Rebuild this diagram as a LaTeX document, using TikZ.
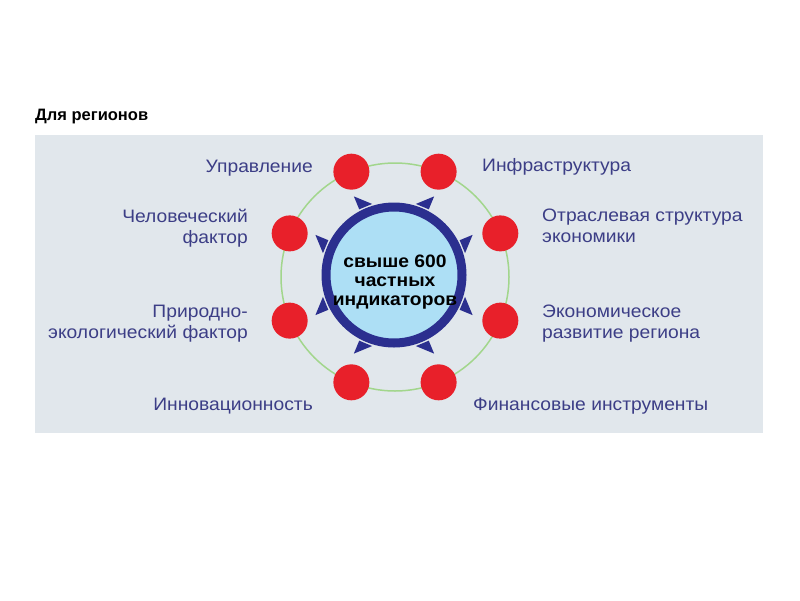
\documentclass[tikz,border=0pt]{standalone}
\usepackage{fontspec}
\setmainfont[FakeStretch=1.07]{Liberation Sans}
\newfontfamily\titlefont{Liberation Sans}
\definecolor{panel}{HTML}{E1E7EC}
\definecolor{lbl}{HTML}{3C3E86}
\definecolor{ringc}{HTML}{2B2F8F}
\definecolor{core}{HTML}{ADDFF5}
\definecolor{dotred}{HTML}{E8202A}
\definecolor{grn}{HTML}{A2D68C}
\begin{document}
\begin{tikzpicture}[x=1pt,y=-1pt,
  lab/.style={text=lbl,font=\fontsize{18}{21}\selectfont,inner sep=0pt},
  dot/.style={circle,fill=dotred,minimum size=36pt,inner sep=0pt},
  tri/.style={fill=ringc}]
\useasboundingbox[fill=white] (0,0) rectangle (800,600);
\node[anchor=base west,inner sep=0pt,font=\titlefont\bfseries\fontsize{16.5}{18}\selectfont] (title) at (35,120) {Для регионов};
\fill[panel] (35,135) rectangle (763,433);
\coordinate (c) at (395,277);
\draw[grn,line width=1.5pt] (c) circle[radius=114];
\foreach \k in {0,...,7}{
  \pgfmathsetmacro\a{22.5+45*\k}
  \pgfmathsetmacro\s{ifthenelse(mod(\k,2)==0,1,-1)}
  \fill[tri] ({394+74*cos(\a)+7*\s*sin(\a)},{275-74*sin(\a)+7*\s*cos(\a)})
    -- ({394+74*cos(\a)-7*\s*sin(\a)},{275-74*sin(\a)-7*\s*cos(\a)})
    -- ({394+88*cos(\a)-7*\s*sin(\a)},{275-88*sin(\a)-7*\s*cos(\a)}) -- cycle;
}
\node[circle,draw=ringc,line width=9pt,fill=core,minimum size=136pt,inner sep=0pt] (core) at (394,275) {};
\node[align=center,inner sep=0pt,font=\bfseries\fontsize{18}{19}\selectfont] (coretext) at (395,282) {свыше 600\\частных\\индикаторов};
\foreach \k/\n in {0/d1,1/d2,2/d3,3/d4,4/d5,5/d6,6/d7,7/d8}{
  \pgfmathsetmacro\a{22.5+45*\k}
  \node[dot] (\n) at ({395+114*cos(\a)},{277-114*sin(\a)}) {};
}
\node[lab,anchor=base west] (l1) at (482,171) {Инфраструктура};
\node[lab,anchor=base west,align=left] (l2) at (542,242) {Отраслевая структура\\экономики};
\node[lab,anchor=base west,align=left] (l3) at (542,338) {Экономическое\\развитие региона};
\node[lab,anchor=base west] (l4) at (473,410) {Финансовые инструменты};
\node[lab,anchor=base east] (l5) at (313,410) {Инновационность};
\node[lab,anchor=base east,align=right] (l6) at (248,338) {Природно-\\экологический фактор};
\node[lab,anchor=base east,align=right] (l7) at (248,243) {Человеческий\\фактор};
\node[lab,anchor=base east] (l8) at (313,172) {Управление};
\end{tikzpicture}
\end{document}
